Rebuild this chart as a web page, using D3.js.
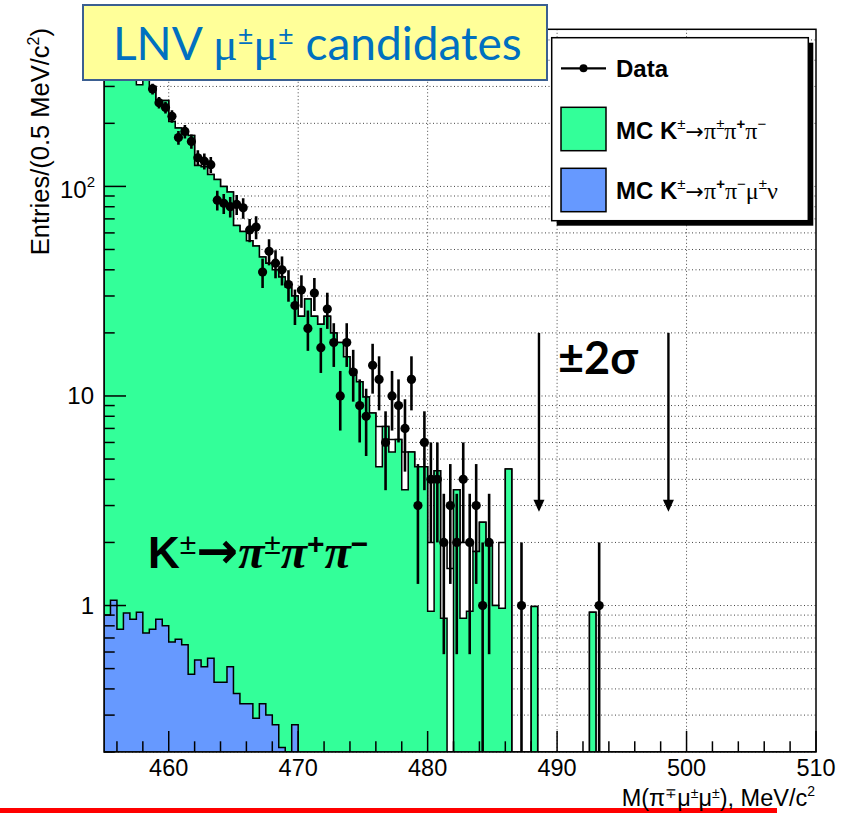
<!DOCTYPE html>
<html><head><meta charset="utf-8">
<script src="https://cdn.jsdelivr.net/npm/d3@7"></script>
<style>body{margin:0;background:#fff}svg{display:block}</style>
</head><body><svg id="c" width="849" height="813"></svg>
<script>
// ---------------- data ----------------
const binLow = 455, binWidth = 0.5, nBins = 110;
const dataCounts = [600,540,480,440,420,400,360,292,251,238,
  216,171,183,164,137,132,127,86,83,80,
  82,79,62,64,39,49,43,40,34,27,
  32,21,31,17,26,18,10,18,13,9,
  8,14,12,6,10,9,7,12,3,6,
  4,4,2,3,2,4,2,3,1,2,
  0,0,0,0,1,0,0,0,0,0,
  0,0,0,0,0,0,1,0,0,0,
  0,0,0,0,0,0,0,0,0,0,
  0,0,0,0,0,0,0,0,0,0,
  0,0,0,0,0,0,0,0,0,0];
const mcTotal = [700,640,580,520,470,420,380,300,257,257,
  204,190,180,175,126,124,114,108,100,94,
  65,61,55,52,46,43,40,37,33,30,
  24,29,24,22,24,20,18,15.4,13.3,11.7,
  9.9,8.3,7.15,7.15,6.2,6.2,5.4,5.4,4.6,4.6,
  2.0,4.4,2.0,1.5,3.57,2.0,2.0,1.81,2.5,1.93,
  1.0,2.0,4.48,0,0,0,0.99,0,0,0,
  0,0,0,0,0,0.93,0,0,0,0,
  0,0,0,0,0,0,0,0,0,0,
  0,0,0,0,0,0,0,0,0,0,
  0,0,0,0,0,0,0,0,0,0];
const mcK3pi = [700,640,580,520,470,306,380,300,257,257,
  204,190,180,175,126,124,114,108,100,94,
  65,61,55,52,46,43,40,37,33,30,
  24,29,24,22,24,20,18,15.4,13.3,11.7,
  9.9,8.3,4.6,7.15,5.4,6.2,3.57,5.4,4.6,4.6,
  0.94,4.4,0.87,0,3.57,0.87,0.94,1.81,2.5,1.93,
  1.0,0.97,4.48,0,0,0,0.99,0,0,0,
  0,0,0,0,0,0.93,0,0,0,0,
  0,0,0,0,0,0,0,0,0,0,
  0,0,0,0,0,0,0,0,0,0,
  0,0,0,0,0,0,0,0,0,0];
const mcKmunu = [0.90,1.06,0.77,0.92,0.86,0.93,0.74,0.77,0.86,0.80,
  0.67,0.69,0.65,0.47,0.55,0.51,0.56,0.43,0.43,0.51,
  0.38,0.34,0.34,0.29,0.34,0.30,0.27,0.21,0,0.27];
const xTickLabels = [460,470,480,490,500,510];
const yTickLabels = [1,10,100];
const sigmaArrows = [488.6, 498.6];
const arrowTop = 20, arrowTip = 2.8;
const yMin = 0.2, yMax = 562;

// ---------------- layout ----------------
const svg = d3.select('#c');
const L = 104, R = 816, T = 29.3, B = 752;
const x = d3.scaleLinear().domain([455,510]).range([L,R]);
const y = d3.scaleLog().domain([yMin,yMax]).range([B,T]);
const GREEN = '#33ff99', BLUE = '#6699ff';
const SANS = '"Liberation Sans", Arial, Helvetica, sans-serif';
const SERIF = '"Liberation Serif", "Times New Roman", serif';
const ARROWF = '"DejaVu Sans", sans-serif';

svg.append('rect').attr('width',849).attr('height',813).attr('fill','#fff');
svg.append('defs').append('clipPath').attr('id','pc')
  .append('rect').attr('x',L).attr('y',T).attr('width',R-L).attr('height',B-T);

// red slide rule (behind texts)
svg.append('rect').attr('x',0).attr('y',808).attr('width',777).attr('height',5).attr('fill','#ff0000');

// grid
const grid = svg.append('g').attr('stroke','#444').attr('stroke-width',1).attr('stroke-dasharray','1,2.5');
const yGridVals = [];
[0.1,1,10,100].forEach(d=>{for(let k=1;k<=9;k++){const v=d*k; if(v>=yMin && v<yMax && v>0.15) yGridVals.push(v);}});
yGridVals.forEach(v=>grid.append('line').attr('x1',L).attr('x2',R).attr('y1',y(v)).attr('y2',y(v)));
xTickLabels.slice(0,-1).forEach(v=>grid.append('line').attr('x1',x(v)).attr('x2',x(v)).attr('y1',T).attr('y2',B));

// histograms
function histPath(vals){
  let p = `M${x(binLow)},${B}`;
  vals.forEach((v,i)=>{
    const xl = x(binLow+i*binWidth), xr = x(binLow+(i+1)*binWidth);
    const yy = v>0 ? y(Math.max(v,yMin)) : B;
    p += `L${xl},${yy}L${xr},${yy}`;
  });
  p += `L${x(binLow+vals.length*binWidth)},${B}Z`;
  return p;
}
const hg = svg.append('g').attr('clip-path','url(#pc)');
hg.append('path').attr('d',histPath(mcTotal)).attr('fill','#fff').attr('stroke','#000').attr('stroke-width',1.5);
hg.append('path').attr('d',histPath(mcK3pi)).attr('fill',GREEN).attr('stroke','#000').attr('stroke-width',1.5);
hg.append('path').attr('d',histPath(mcKmunu)).attr('fill',BLUE).attr('stroke','#000').attr('stroke-width',1.5);

// data points
const dg = svg.append('g').attr('clip-path','url(#pc)');
dataCounts.forEach((n,i)=>{
  if(n<=0) return;
  const xc = x(binLow+(i+0.5)*binWidth);
  const e = Math.sqrt(n);
  const lo = n-e > yMin ? y(n-e) : B;
  dg.append('line').attr('x1',xc).attr('x2',xc).attr('y1',y(n+e)).attr('y2',lo).attr('stroke','#000').attr('stroke-width',2.6);
  dg.append('line').attr('x1',x(binLow+i*binWidth)).attr('x2',x(binLow+(i+1)*binWidth)).attr('y1',y(n)).attr('y2',y(n)).attr('stroke','#000').attr('stroke-width',2.6);
  dg.append('circle').attr('cx',xc).attr('cy',y(n)).attr('r',4.6).attr('fill','#000');
});

// frame & ticks
const ax = svg.append('g').attr('stroke','#000').attr('stroke-width',1.5).attr('fill','none');
ax.append('rect').attr('x',L).attr('y',T).attr('width',R-L).attr('height',B-T);
for(let v=456; v<=510; v+=2){
  const major = v%10===0;
  ax.append('line').attr('x1',x(v)).attr('x2',x(v)).attr('y1',B).attr('y2',B-(major?21:10.7));
}
[0.1,1,10,100].forEach(d=>{for(let k=1;k<=9;k++){const v=d*k; if(v<yMin||v>yMax) continue;
  ax.append('line').attr('x1',L).attr('x2',L+(k===1?22:10.7)).attr('y1',y(v)).attr('y2',y(v));}});

// tick labels
const tl = svg.append('g').attr('font-family',SANS).attr('font-size',24).attr('fill','#000');
xTickLabels.forEach(v=>tl.append('text').attr('x',x(v)).attr('y',775.5).attr('font-size',23.5).attr('text-anchor','middle').text(v));
function rich(parent, px, py, parts, attrs){
  const t = parent.append('text').attr('x',px).attr('y',py);
  Object.entries(attrs||{}).forEach(([k,v])=>t.attr(k,v));
  let shift = 0;
  parts.forEach(p=>{
    const s = p.sup||0;
    const ts = t.append('tspan').text(p.t).attr('dy', shift - s);
    shift = s;
    if(p.size) ts.attr('font-size',p.size);
    if(p.font) ts.attr('font-family',p.font);
    if(p.weight) ts.attr('font-weight',p.weight);
    if(p.style) ts.attr('font-style',p.style);
  });
  return t;
}
yTickLabels.forEach(v=>{
  const e = Math.round(Math.log10(v));
  if(e===2) rich(tl, 95, y(v)+12, [{t:'10'},{t:'2',sup:11,size:15}], {'text-anchor':'end'});
  else tl.append('text').attr('x',94).attr('y',y(v)+8.5).attr('text-anchor','end').text(v);
});

// axis titles
rich(svg, 815, 806, [{t:'M(π'},{t:'∓',sup:8,size:14},{t:'μ'},{t:'±',sup:8,size:14},{t:'μ'},{t:'±',sup:8,size:14},{t:'), MeV/c'},{t:'2',sup:10,size:14}],
  {'text-anchor':'end','font-family':SANS,'font-size':23.5});
rich(svg, 0, 0, [{t:'Entries/(0.5 MeV/c'},{t:'2',sup:10,size:16},{t:')'}],
  {'text-anchor':'end','font-family':SANS,'font-size':25.5,'transform':'translate(49,28) rotate(-90)'});

// ±2σ arrows
const ar = svg.append('g');
sigmaArrows.forEach(m=>{
  const xa = x(m), y1 = y(arrowTop), y2 = y(arrowTip);
  ar.append('line').attr('x1',xa).attr('x2',xa).attr('y1',y1).attr('y2',y2-8).attr('stroke','#000').attr('stroke-width',2.4);
  ar.append('path').attr('d',`M${xa-5.5},${y2-12}L${xa+5.5},${y2-12}L${xa},${y2}Z`).attr('fill','#000');
});
svg.append('text').attr('x',558).attr('y',374).attr('font-family','Lato, "Open Sans", sans-serif').attr('font-weight','bold').attr('font-size',45).text('±2σ');

// K → 3π label
rich(svg, 148, 568, [
  {t:'K',font:SANS,weight:'bold'},{t:'±',sup:14,size:30,font:SANS},
  {t:'→',font:ARROWF,weight:'bold',size:50},
  {t:'π',font:SERIF,weight:'bold',style:'italic',size:48},{t:'±',sup:14,size:30,font:SANS},
  {t:'π',font:SERIF,weight:'bold',style:'italic',size:48},{t:'+',sup:14,size:30,font:SANS,weight:'bold'},
  {t:'π',font:SERIF,weight:'bold',style:'italic',size:48},{t:'−',sup:14,size:30,font:SANS,weight:'bold'}
], {'font-size':44,'fill':'#000'});

// title box
svg.append('rect').attr('x',83).attr('y',5).attr('width',464).attr('height',75).attr('fill','#ffff99').attr('stroke','#3b5f91').attr('stroke-width',2);
rich(svg, 113, 60, [
  {t:'LNV '},{t:'μ',font:SERIF},{t:'±',sup:15,size:27},{t:'μ',font:SERIF},{t:'±',sup:15,size:27},{t:' candidates'}
], {'font-family':'Lato, "Open Sans", sans-serif','font-size':46,'fill':'#0070c0'});

// legend
const lg = svg.append('g');
lg.append('rect').attr('x',556.7).attr('y',42.7).attr('width',256.6).attr('height',183).attr('fill','#000');
lg.append('rect').attr('x',551.7).attr('y',37.7).attr('width',256.6).attr('height',183).attr('fill','#fff').attr('stroke','#000').attr('stroke-width',1.5);
lg.append('line').attr('x1',561).attr('x2',606).attr('y1',68.3).attr('y2',68.3).attr('stroke','#000').attr('stroke-width',2.2);
lg.append('circle').attr('cx',583.5).attr('cy',68.3).attr('r',4).attr('fill','#000');
lg.append('rect').attr('x',561).attr('y',107.3).attr('width',45).attr('height',43.4).attr('fill',GREEN).attr('stroke','#000').attr('stroke-width',1.5);
lg.append('rect').attr('x',561).attr('y',168.3).attr('width',45).attr('height',43.4).attr('fill',BLUE).attr('stroke','#000').attr('stroke-width',1.5);
const lt = {'font-family':SANS,'font-size':24,'fill':'#000'};
rich(lg, 616, 77, [{t:'Data',weight:'bold'}], lt);
rich(lg, 616, 139, [{t:'MC K',weight:'bold'},{t:'±',sup:10,size:15},{t:'→',font:ARROWF,size:22},{t:'π',font:SERIF},{t:'±',sup:10,size:15},{t:'π',font:SERIF},{t:'+',sup:10,size:15,weight:'bold'},{t:'π',font:SERIF},{t:'−',sup:10,size:15}], lt);
rich(lg, 616, 199, [{t:'MC K',weight:'bold'},{t:'±',sup:10,size:15},{t:'→',font:ARROWF,size:22},{t:'π',font:SERIF},{t:'+',sup:10,size:15,weight:'bold'},{t:'π',font:SERIF},{t:'−',sup:10,size:15},{t:'μ',font:SERIF},{t:'±',sup:10,size:15},{t:'ν',font:SERIF}], lt);
</script></body></html>
